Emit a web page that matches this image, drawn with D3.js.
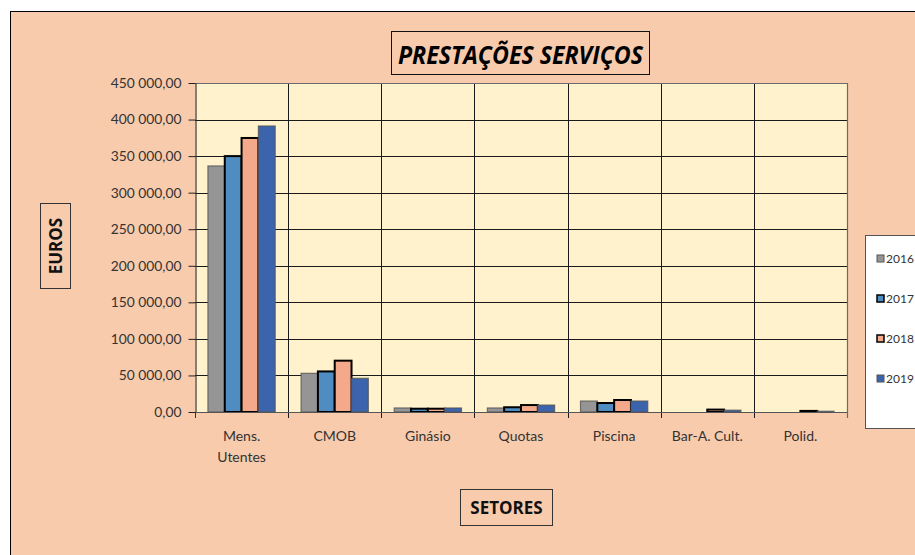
<!DOCTYPE html>
<html>
<head>
<meta charset="utf-8">
<script src="https://cdn.jsdelivr.net/npm/d3@7"></script>
<style>
  body { margin: 0; background: #fff; }
  svg { display: block; }
</style>
</head>
<body>
<div id="chart"></div>
<script>
// Data
const categories = ["Mens. Utentes", "CMOB", "Ginásio", "Quotas", "Piscina", "Bar-A. Cult.", "Polid."];
const years = ["2016", "2017", "2018", "2019"];
const values2016 = [336500, 52900, 5500, 5500, 15000, 0, 0];
const values2017 = [350000, 55500, 4500, 6500, 12300, 0, 0];
const values2018 = [374800, 70200, 4500, 9500, 16400, 3300, 1500];
const values2019 = [391200, 46100, 5500, 9500, 15000, 2500, 1000];
const yTicks = [0, 50000, 100000, 150000, 200000, 250000, 300000, 350000, 400000, 450000];

const series = [values2016, values2017, values2018, values2019];
const colors = ["#959595", "#4f8cc1", "#f3a98a", "#3c64ad"];
const heavy = [false, true, true, false];

const W = 915, H = 555;
const plot = { left: 195, right: 847, top: 83, bottom: 412 };

const svg = d3.select("#chart")
  .append("svg")
  .attr("width", W)
  .attr("height", H);

// Chart area background
svg.append("rect")
  .attr("x", 10.5).attr("y", 11.5)
  .attr("width", W + 10).attr("height", H + 10)
  .attr("fill", "#f8cbad")
  .attr("stroke", "#000")
  .attr("stroke-width", 1);

// Scales
const x = d3.scaleBand()
  .domain(categories)
  .range([plot.left, plot.right])
  .padding(0);

const xInner = d3.scaleBand()
  .domain(years)
  .range([0, x.bandwidth()])
  .paddingInner(0)
  .paddingOuter(0.77);

const y = d3.scaleLinear()
  .domain([0, 450000])
  .range([plot.bottom, plot.top]);

const locale = d3.formatLocale({ decimal: ",", thousands: " ", grouping: [3], currency: ["", "€"] });
const fmt = locale.format(",.2f");

// Plot background
svg.append("rect")
  .attr("x", plot.left).attr("y", plot.top)
  .attr("width", plot.right - plot.left)
  .attr("height", plot.bottom - plot.top)
  .attr("fill", "#fff2cc");

// Horizontal grid
svg.append("g")
  .selectAll("line")
  .data(yTicks.filter(d => d > 0))
  .enter()
  .append("line")
  .attr("x1", plot.left).attr("x2", plot.right)
  .attr("y1", d => Math.round(y(d)) + 0.5)
  .attr("y2", d => Math.round(y(d)) + 0.5)
  .attr("stroke", "#1a1a1a")
  .attr("stroke-width", 1);

// Vertical grid at category boundaries
svg.append("g")
  .selectAll("line")
  .data(categories.slice(1))
  .enter()
  .append("line")
  .attr("x1", d => Math.round(x(d)) + 0.5)
  .attr("x2", d => Math.round(x(d)) + 0.5)
  .attr("y1", plot.top).attr("y2", plot.bottom + 6)
  .attr("stroke", "#1a1a1a")
  .attr("stroke-width", 1);

// Plot border (right / top)
svg.append("path")
  .attr("d", `M${plot.left},${plot.top + 0.5}H${plot.right + 0.5}V${plot.bottom + 6}`)
  .attr("fill", "none")
  .attr("stroke", "#6b6b6b")
  .attr("stroke-width", 1.2);

// Bars
years.forEach((yr, i) => {
  svg.append("g")
    .selectAll("rect")
    .data(series[i])
    .enter()
    .append("rect")
    .attr("x", (d, j) => x(categories[j]) + xInner(yr))
    .attr("y", d => y(d))
    .attr("width", xInner.bandwidth())
    .attr("height", d => y(0) - y(d))
    .attr("fill", colors[i])
    .attr("stroke", heavy[i] ? "#000" : "#555")
    .attr("stroke-opacity", heavy[i] ? 1 : 0.8)
    .attr("stroke-width", heavy[i] ? 2 : 1.2);
});

// Y axis
const yAxis = svg.append("g")
  .attr("transform", `translate(${plot.left + 0.5},0)`)
  .call(d3.axisLeft(y).tickValues(yTicks).tickFormat(fmt).tickSize(7).tickPadding(7).tickSizeOuter(0));
yAxis.select(".domain").attr("stroke", "#333").attr("stroke-width", 1.2);
yAxis.selectAll(".tick line").attr("stroke", "#222");
yAxis.selectAll("text")
  .attr("fill", "#333")
  .style("font-family", "Lato, 'Open Sans', sans-serif")
  .style("font-size", "13.8px");

// X axis line + ticks
svg.append("line")
  .attr("x1", plot.left).attr("x2", plot.right)
  .attr("y1", plot.bottom + 0.5).attr("y2", plot.bottom + 0.5)
  .attr("stroke", "#555").attr("stroke-width", 1.2);
svg.append("line")
  .attr("x1", plot.left + 0.5).attr("x2", plot.left + 0.5)
  .attr("y1", plot.bottom).attr("y2", plot.bottom + 6)
  .attr("stroke", "#333");

// X labels
const xLabels = svg.append("g")
  .selectAll("text")
  .data(categories)
  .enter()
  .append("text")
  .attr("x", d => x(d) + x.bandwidth() / 2)
  .attr("y", 441)
  .attr("text-anchor", "middle")
  .attr("fill", "#333")
  .style("font-family", "Lato, 'Open Sans', sans-serif")
  .style("font-size", "14px");
xLabels.each(function(d) {
  const parts = d === "Mens. Utentes" ? ["Mens.", "Utentes"] : [d];
  d3.select(this).selectAll("tspan")
    .data(parts)
    .enter()
    .append("tspan")
    .attr("x", x(d) + x.bandwidth() / 2)
    .attr("dy", (p, k) => k === 0 ? 0 : 21)
    .text(p => p);
});

// Title
svg.append("rect")
  .attr("x", 391.5).attr("y", 31.5)
  .attr("width", 258).attr("height", 43)
  .attr("fill", "none").attr("stroke", "#111").attr("stroke-width", 1);
svg.append("text")
  .attr("x", 520.5).attr("y", 64)
  .attr("text-anchor", "middle")
  .attr("textLength", 245)
  .attr("lengthAdjust", "spacingAndGlyphs")
  .attr("fill", "#000")
  .style("font-family", "'Open Sans', sans-serif")
  .style("font-weight", "bold")
  .style("font-style", "italic")
  .style("font-size", "25px")
  .text("PRESTAÇÕES SERVIÇOS");

// Y title
svg.append("rect")
  .attr("x", 40.5).attr("y", 203.5)
  .attr("width", 30).attr("height", 85)
  .attr("fill", "none").attr("stroke", "#333").attr("stroke-width", 1);
svg.append("text")
  .attr("transform", "translate(62,246) rotate(-90)")
  .attr("text-anchor", "middle")
  .attr("fill", "#111")
  .style("font-family", "'Open Sans', sans-serif")
  .style("font-weight", "bold")
  .style("font-size", "17px")
  .text("EUROS");

// X title
svg.append("rect")
  .attr("x", 460.5).attr("y", 489.5)
  .attr("width", 92).attr("height", 36)
  .attr("fill", "none").attr("stroke", "#333").attr("stroke-width", 1);
svg.append("text")
  .attr("x", 506.5).attr("y", 514)
  .attr("text-anchor", "middle")
  .attr("fill", "#111")
  .style("font-family", "'Open Sans', sans-serif")
  .style("font-weight", "bold")
  .style("font-size", "17px")
  .text("SETORES");

// Legend
const legend = svg.append("g");
legend.append("rect")
  .attr("x", 865.5).attr("y", 235.5)
  .attr("width", 70).attr("height", 193)
  .attr("fill", "#fff").attr("stroke", "#555").attr("stroke-width", 1);
const items = legend.selectAll("g.item")
  .data(years)
  .enter()
  .append("g")
  .attr("class", "item")
  .attr("transform", (d, i) => `translate(877,${259 + i * 40})`);
items.append("rect")
  .attr("x", 0).attr("y", -4)
  .attr("width", 7).attr("height", 7)
  .attr("fill", (d, i) => colors[i])
  .attr("stroke", (d, i) => heavy[i] ? "#000" : "#555")
  .attr("stroke-width", (d, i) => heavy[i] ? 1.5 : 1);
items.append("text")
  .attr("x", 9).attr("y", 4)
  .attr("fill", "#333")
  .style("font-family", "Lato, 'Open Sans', sans-serif")
  .style("font-size", "12px")
  .text(d => d);
</script>
</body>
</html>
